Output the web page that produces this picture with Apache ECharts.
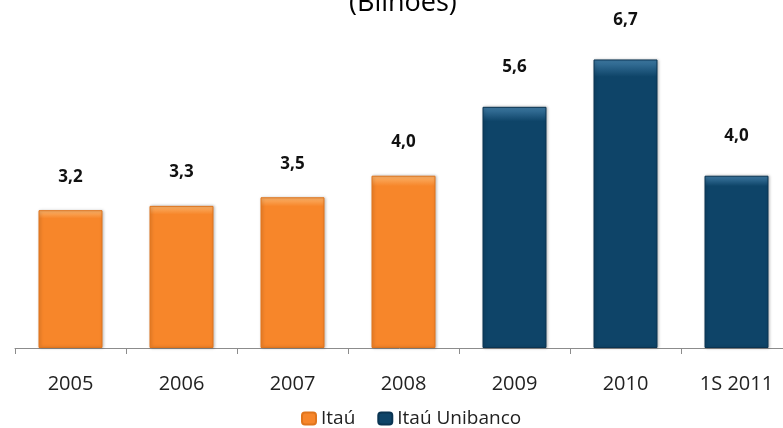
<!DOCTYPE html>
<html>
<head>
<meta charset="utf-8">
<title>Itaú - Bilhões</title>
<script src="https://cdn.jsdelivr.net/npm/echarts@6/dist/echarts.min.js"></script>
<style>
    html, body{
        margin: 0;
        padding: 0;
        background-color: #fff;
    }
    #chart{
        width: 783px;
        height: 428px;
    }
</style>
</head>
<body>
<div id="chart"></div>
<script>
    // dados
    var categories = ['2005', '2006', '2007', '2008', '2009', '2010', '1S 2011'];
    var itau = [3.2, 3.3, 3.5, 4.0, null, null, null];
    var unibanco = [null, null, null, null, 5.6, 6.7, 4.0];

    var fontFamily = '"Open Sans", "Noto Sans", sans-serif';

    function fmt(p){
        return p.value == null ? '' : p.value.toFixed(1).replace('.', ',');
    }

    function barColor(top, mid){
        return new echarts.graphic.LinearGradient(0, 0, 0, 1, [
            {offset: 0, color: top},
            {offset: 0.06, color: mid},
            {offset: 1, color: mid}
        ]);
    }

    var myChart = echarts.init(document.getElementById('chart'));
    var option = {
        animation: false,
        title: {
            text: '(Bilhões)',
            left: 344,
            top: -15,
            textStyle: {fontFamily: fontFamily, fontSize: 27, fontWeight: 'normal', color: '#000'}
        },
        legend: {
            top: 404,
            left: 296,
            itemWidth: 14,
            itemHeight: 12,
            itemGap: 22,
            textStyle: {fontFamily: fontFamily, fontSize: 19, color: '#222'},
            data: ['Itaú', 'Itaú Unibanco']
        },
        grid: {left: 15, width: 777, top: 25, bottom: 80, outerBoundsMode: 'none'},
        xAxis: {
            type: 'category',
            data: categories,
            axisLine: {lineStyle: {color: '#8c8c8c', width: 1}},
            axisTick: {show: true, length: 6, lineStyle: {color: '#8c8c8c'}},
            axisLabel: {fontFamily: fontFamily, fontSize: 20, color: '#222', margin: 26}
        },
        yAxis: {
            type: 'value',
            min: 0,
            max: 7.5,
            show: false
        },
        series: [{
            name: 'Itaú',
            type: 'bar',
            data: itau,
            barWidth: 64,
            barGap: '-100%',
            itemStyle: {color: barColor('#fbb36b', '#f7862a'), borderColor: '#e0751c', borderWidth: 1,
                shadowColor: 'rgba(0,0,0,0.25)', shadowBlur: 3, shadowOffsetX: 1},
            label: {show: true, position: 'top', distance: 25, formatter: fmt,
                fontFamily: fontFamily, fontSize: 17, fontWeight: 'bold', color: '#111'}
        }, {
            name: 'Itaú Unibanco',
            type: 'bar',
            data: unibanco,
            barWidth: 64,
            itemStyle: {color: barColor('#3f7aa3', '#0e4468'), borderColor: '#0a3452', borderWidth: 1,
                shadowColor: 'rgba(0,0,0,0.25)', shadowBlur: 3, shadowOffsetX: 1},
            label: {show: true, position: 'top', distance: 31, formatter: fmt,
                fontFamily: fontFamily, fontSize: 17, fontWeight: 'bold', color: '#111'}
        }]
    };
    myChart.setOption(option);
</script>
</body>
</html>
